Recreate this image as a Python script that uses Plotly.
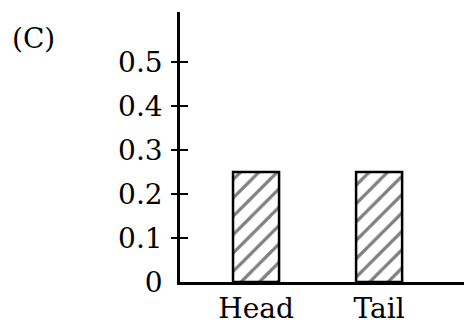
import plotly.graph_objects as go

categories = ["Head", "Tail"]
values = [0.25, 0.25]
tick_vals = [0, 0.1, 0.2, 0.3, 0.4, 0.5]
tick_text = ["0", "0.1", "0.2", "0.3", "0.4", "0.5"]
panel_label = "(C)"

FONT = "DejaVu Serif"
FS = 28
YMAX = 0.614

fig = go.Figure()
fig.add_trace(go.Bar(
    x=[0, 1], y=values, width=0.374,
    marker=dict(color="white", line=dict(color="black", width=2.5),
                pattern=dict(shape="/", size=13, solidity=0.25,
                             fgcolor="black", bgcolor="white")),
    showlegend=False, hoverinfo="skip",
))

fig.update_layout(
    width=464, height=327,
    margin=dict(l=180, r=0, t=12, b=45),
    paper_bgcolor="white", plot_bgcolor="white",
    font=dict(family=FONT, size=FS, color="black"),
    xaxis=dict(range=[-0.618, 1.69], tickvals=[0, 1], ticktext=categories,
               showline=True, linecolor="black", linewidth=2.5,
               ticks="", showgrid=False, zeroline=False,
               tickfont=dict(family=FONT, size=FS, color="black")),
    yaxis=dict(range=[0, YMAX], tickvals=tick_vals, ticktext=tick_text,
               showline=True, linecolor="black", linewidth=2.5,
               ticks="", showgrid=False, zeroline=False,
               ticklabelstandoff=9,
               tickfont=dict(family=FONT, size=FS, color="black")),
    yaxis2=dict(range=[0, YMAX], overlaying="y", side="left", anchor="x",
                tickvals=tick_vals[1:], ticks="outside", ticklen=8,
                tickwidth=2, tickcolor="black", showticklabels=False,
                showgrid=False, zeroline=False, showline=False),
    yaxis3=dict(range=[0, YMAX], overlaying="y", side="left", anchor="x",
                tickvals=tick_vals[1:], ticks="inside", ticklen=8,
                tickwidth=2, tickcolor="black", showticklabels=False,
                showgrid=False, zeroline=False, showline=False),
    annotations=[dict(text=panel_label, xref="paper", yref="paper",
                      x=-0.598, y=0.9, xanchor="left", yanchor="middle",
                      showarrow=False,
                      font=dict(family=FONT, size=FS, color="black"))],
)
fig.add_trace(go.Scatter(x=[None], y=[None], yaxis="y2", showlegend=False))
fig.add_trace(go.Scatter(x=[None], y=[None], yaxis="y3", showlegend=False))

fig.write_html(
    "out.html",
    config={"displayModeBar": False},
    post_script="document.body.style.margin='0';document.body.style.overflow='hidden';",
)
